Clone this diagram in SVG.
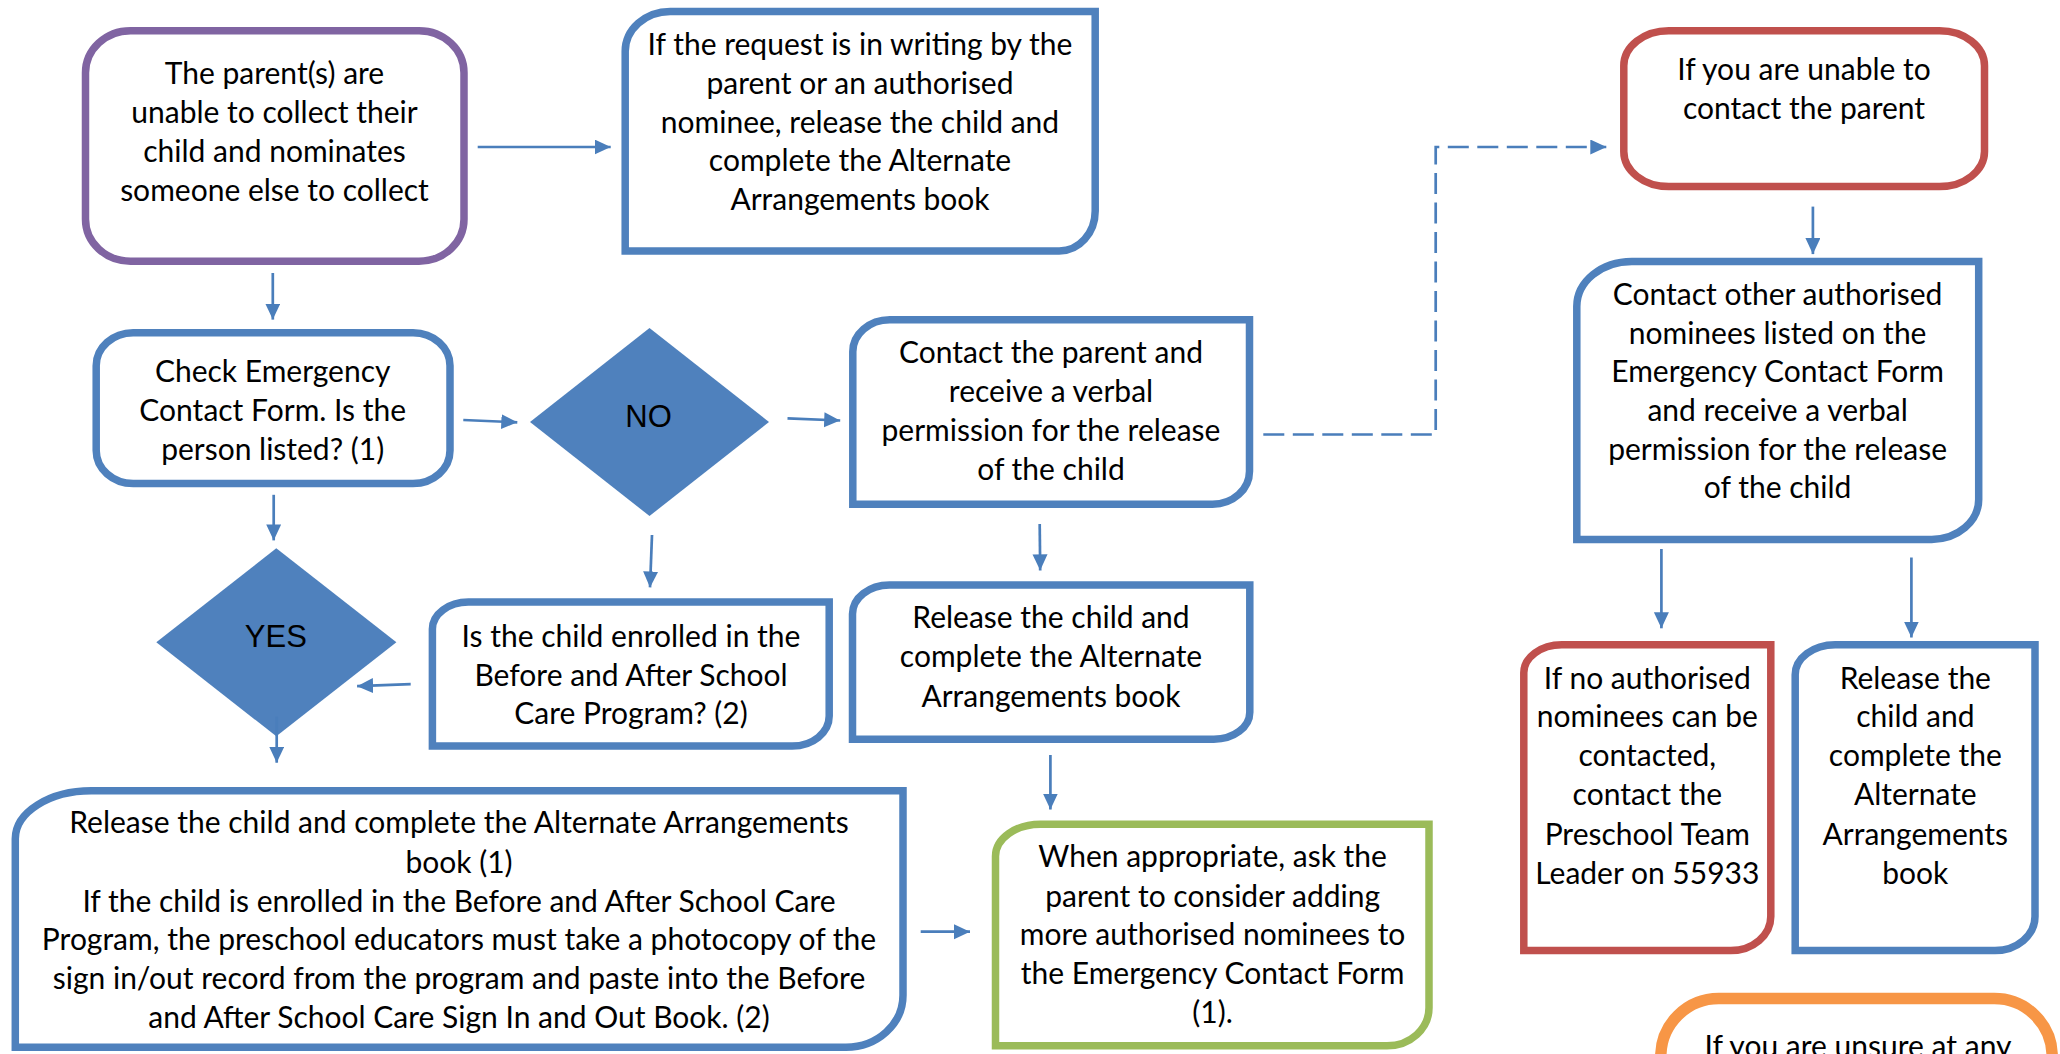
<svg xmlns="http://www.w3.org/2000/svg" width="2060" height="1054" viewBox="0 0 2060 1054">
<style>
.box{fill:#fff;stroke-width:7.5}
.blue{stroke:#4F81BD}
.red{stroke:#C0504D}
.purple{stroke:#8064A2}
.green{stroke:#9BBB59}
.orange{stroke:#F79646;stroke-width:11.5}
.dia{fill:#4F81BD;stroke:none}
.t{font-family:Lato,"Liberation Sans",sans-serif;font-size:30px;fill:#000;text-anchor:middle}
.d{font-family:"Liberation Sans",Arial,sans-serif;font-size:31px;fill:#000;text-anchor:middle}
.c{fill:none;stroke:#4A7EBB;stroke-width:2.7;marker-end:url(#ah)}
.dash{stroke-dasharray:21 8.5}
</style>
<defs>
<marker id="ah" markerUnits="userSpaceOnUse" markerWidth="16" markerHeight="16" refX="16" refY="7.5" orient="auto">
<path d="M0,0 L16,7.5 L0,15 Z" fill="#4A7EBB"/>
</marker>
</defs>
<rect width="2060" height="1054" fill="#fff"/>
<g id="connectors">
<path class="c" d="M477.7,147 H610.7"/>
<path class="c" d="M272.8,273 V319.6"/>
<path class="c" d="M463.3,420 L517.3,422.3"/>
<path class="c" d="M273.7,494.8 V540.4"/>
<path class="c" d="M787.5,418.4 L840.2,420.5"/>
<path class="c" d="M652,535 L650,587.4"/>
<path class="c" d="M1039.7,524 L1040.2,570.4"/>
<path class="c dash" d="M1263.3,434.5 H1435.7 V147 H1606.3"/>
<path class="c" d="M1812.9,206.6 V254.1"/>
<path class="c" d="M1661.4,549 V628.3"/>
<path class="c" d="M1911.4,557.5 V637.5"/>
<path class="c" d="M410.7,684.2 L357.1,686.2"/>
<path class="c" d="M1050.4,755 V809.5"/>
<path class="c" d="M920.7,931.7 H970"/>
</g>
<g id="n-parent">
<rect class="box purple" x="85.5" y="30.7" width="378.5" height="230.5" rx="45" ry="42"/>
<text class="t" x="274.5"><tspan x="274.5" y="84.4">The parent(s) are</tspan><tspan x="274.5" y="123.3">unable to collect their</tspan><tspan x="274.5" y="161.8">child and nominates</tspan><tspan x="274.5" y="200.8">someone else to collect</tspan></text>
</g>
<g id="n-request">
<path class="box blue" d="M625.2,51.4 A45,40 0 0 1 670.2,11.4 H1095.2 V211 A36,40 0 0 1 1059.2,251 H625.2 Z"/>
<text class="t"><tspan x="860" y="55.1">If the request is in writing by the</tspan><tspan x="860" y="94">parent or an authorised</tspan><tspan x="860" y="132.6">nominee, release the child and</tspan><tspan x="860" y="171.1">complete the Alternate</tspan><tspan x="860" y="210">Arrangements book</tspan></text>
</g>
<g id="n-check">
<rect class="box blue" x="96.2" y="332.7" width="353.8" height="150.8" rx="37" ry="33"/>
<text class="t"><tspan x="272.7" y="382.2">Check Emergency</tspan><tspan x="272.7" y="420.8">Contact Form. Is the</tspan><tspan x="272.7" y="459.7">person listed? (1)</tspan></text>
</g>
<g id="n-no">
<polygon class="dia" points="530,422 649.5,328 769,422 649.5,516"/>
<text class="d" x="648.5" y="427">NO</text>
</g>
<g id="n-contact-parent">
<path class="box blue" d="M852.8,351.8 A37,32 0 0 1 889.8,319.8 H1249.5 V471.2 A37,33 0 0 1 1212.5,504.2 H852.8 Z"/>
<text class="t"><tspan x="1051" y="363.3">Contact the parent and</tspan><tspan x="1051" y="402.2">receive a verbal</tspan><tspan x="1051" y="441.1">permission for the release</tspan><tspan x="1051" y="479.7">of the child</tspan></text>
</g>
<g id="n-unable">
<rect class="box red" x="1623.8" y="30.7" width="360.7" height="155.9" rx="45" ry="35"/>
<text class="t"><tspan x="1804" y="79.9">If you are unable to</tspan><tspan x="1804" y="118.8">contact the parent</tspan></text>
</g>
<g id="n-contact-other">
<path class="box blue" d="M1576.8,306.4 A55,45 0 0 1 1631.8,261.4 H1978.7 V499.4 A47,40 0 0 1 1931.7,539.4 H1576.8 Z"/>
<text class="t"><tspan x="1777.6" y="304.8">Contact other authorised</tspan><tspan x="1777.6" y="343.7">nominees listed on the</tspan><tspan x="1777.6" y="382.2">Emergency Contact Form</tspan><tspan x="1777.6" y="420.8">and receive a verbal</tspan><tspan x="1777.6" y="459.7">permission for the release</tspan><tspan x="1777.6" y="498.3">of the child</tspan></text>
</g>
<g id="n-yes">
<polygon class="dia" points="156.3,642.3 276.3,548.3 396.4,642.3 276.3,736.3"/>
<text class="d" x="275.8" y="646.7">YES</text>
<path class="c" d="M276.7,716.7 V762.7"/>
</g>
<g id="n-enrolled">
<path class="box blue" d="M432.4,629 A36,27 0 0 1 468.4,602 H829.2 V716.1 A37,30 0 0 1 792.2,746.1 H432.4 Z"/>
<text class="t"><tspan x="631" y="646.7">Is the child enrolled in the</tspan><tspan x="631" y="685.9">Before and After School</tspan><tspan x="631" y="724.4">Care Program? (2)</tspan></text>
</g>
<g id="n-release-mid">
<path class="box blue" d="M852.5,614 A37,29 0 0 1 889.5,585 H1249.8 V712.2 A36,27 0 0 1 1213.8,739.2 H852.5 Z"/>
<text class="t"><tspan x="1051" y="628.3">Release the child and</tspan><tspan x="1051" y="667.1">complete the Alternate</tspan><tspan x="1051" y="706.6">Arrangements book</tspan></text>
</g>
<g id="n-release-big">
<path class="box blue" d="M15.3,838.8 A76,48 0 0 1 91.3,790.8 H903 V995.2 A57,52 0 0 1 846,1047.2 H15.3 Z"/>
<text class="t"><tspan x="459" y="833.4">Release the child and complete the Alternate Arrangements</tspan><tspan x="459" y="872.5">book (1)</tspan><tspan x="459" y="911.7">If the child is enrolled in the Before and After School Care</tspan><tspan x="459" y="949.8">Program, the preschool educators must take a photocopy of the</tspan><tspan x="459" y="989.3">sign in/out record from the program and paste into the Before</tspan><tspan x="459" y="1027.5">and After School Care Sign In and Out Book. (2)</tspan></text>
</g>
<g id="n-green">
<path class="box green" d="M995.5,856.2 A45,32 0 0 1 1040.5,824.2 H1429 V1007.8 A42,38 0 0 1 1387,1045.8 H995.5 Z"/>
<text class="t"><tspan x="1212.6" y="867.4">When appropriate, ask the</tspan><tspan x="1212.6" y="906.6">parent to consider adding</tspan><tspan x="1212.6" y="945">more authorised nominees to</tspan><tspan x="1212.6" y="983.9">the Emergency Contact Form</tspan><tspan x="1212.6" y="1023.4">(1).</tspan></text>
</g>
<g id="n-no-auth">
<path class="box red" d="M1523.8,672.7 A38,28 0 0 1 1561.8,644.7 H1770.8 V916.5 A40,34 0 0 1 1730.8,950.5 H1523.8 Z"/>
<text class="t"><tspan x="1647.3" y="688.6">If no authorised</tspan><tspan x="1647.3" y="727.1">nominees can be</tspan><tspan x="1647.3" y="765.9">contacted,</tspan><tspan x="1647.3" y="805.4">contact the</tspan><tspan x="1647.3" y="844.6">Preschool Team</tspan><tspan x="1647.3" y="883.8">Leader on 55933</tspan></text>
</g>
<g id="n-release-right">
<path class="box blue" d="M1795.2,674.7 A40,30 0 0 1 1835.2,644.7 H2035 V916.5 A40,34 0 0 1 1995,950.5 H1795.2 Z"/>
<text class="t"><tspan x="1915.3" y="688.6">Release the</tspan><tspan x="1915.3" y="727.1">child and</tspan><tspan x="1915.3" y="765.9">complete the</tspan><tspan x="1915.3" y="805.4">Alternate</tspan><tspan x="1915.3" y="844.6">Arrangements</tspan><tspan x="1915.3" y="883.8">book</tspan></text>
</g>
<g id="n-unsure">
<rect class="box orange" x="1660.8" y="998.5" width="391.4" height="150" rx="58" ry="58"/>
<text class="t" x="1858" y="1057">If you are unsure at any</text>
</g>
</svg>
